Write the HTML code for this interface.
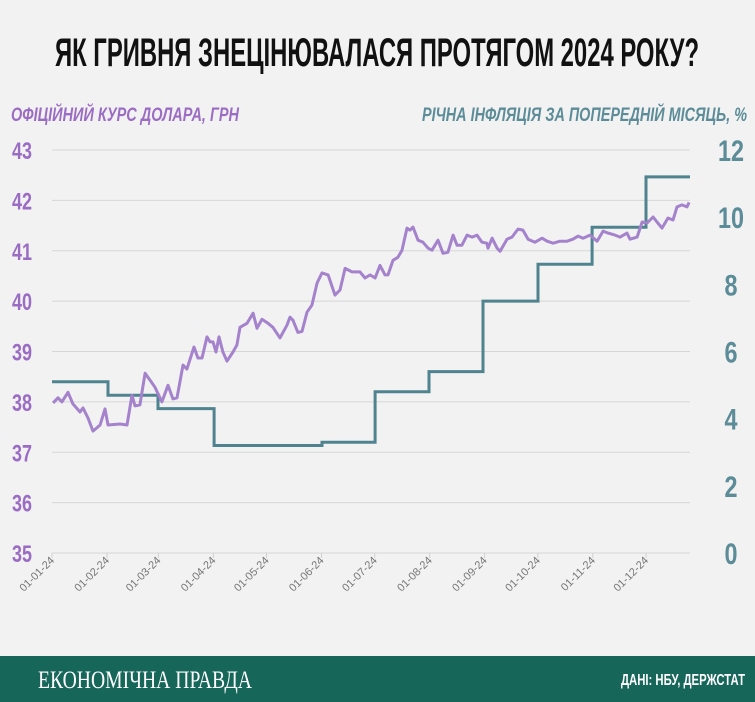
<!DOCTYPE html>
<html><head><meta charset="utf-8"><style>
html,body{margin:0;padding:0;background:#f2f2f2;}
svg{display:block;}
text{font-family:"Liberation Sans Narrow","Liberation Sans",sans-serif;}
</style></head><body>
<svg id="chart" width="755" height="702" viewBox="0 0 755 702" xmlns="http://www.w3.org/2000/svg">
<rect x="0" y="0" width="755" height="702" fill="#f2f2f2"/>
<text x="377" y="66" text-anchor="middle" font-size="40" font-weight="bold" fill="#111" textLength="644" lengthAdjust="spacingAndGlyphs">ЯК ГРИВНЯ ЗНЕЦІНЮВАЛАСЯ ПРОТЯГОМ 2024 РОКУ?</text>
<text x="11" y="121" font-size="19" font-weight="bold" font-style="italic" fill="#9b6cc4" textLength="228" lengthAdjust="spacingAndGlyphs">ОФІЦІЙНИЙ КУРС ДОЛАРА, ГРН</text>
<text x="747" y="121" text-anchor="end" font-size="19" font-weight="bold" font-style="italic" fill="#5b8c98" textLength="325" lengthAdjust="spacingAndGlyphs">РІЧНА ІНФЛЯЦІЯ ЗА ПОПЕРЕДНІЙ МІСЯЦЬ, %</text>
<g id="grid"></g>
<g id="ylabels"></g>
<g id="rlabels"></g>
<g id="xlabels"></g>
<g id="series"></g>
<rect x="0" y="656" width="755" height="46" fill="#16665a"/>
<text x="38" y="688" style="font-family:'Liberation Serif',serif" font-size="25" fill="#fff" textLength="214" lengthAdjust="spacingAndGlyphs">ЕКОНОМІЧНА ПРАВДА</text>
<text x="745" y="685" text-anchor="end" font-size="16" font-weight="bold" fill="#fff" textLength="124" lengthAdjust="spacingAndGlyphs">ДАНІ: НБУ, ДЕРЖСТАТ</text>
</svg>
<script>
const usdDays=[0.6,3.4,5.6,9.0,11.8,15.8,17.5,20.3,23.1,27.1,29.9,31.6,38.4,42.3,45.1,46.8,49.6,52.5,55.3,58.1,62.0,65.4,68.2,70.5,73.9,76.1,80.1,82.3,84.6,87.4,89.1,90.8,92.5,94.2,96.4,98.7,102.1,104.3,106.0,110.0,113.4,115.6,118.4,121.8,124.6,128.6,132.5,134.2,135.9,138.7,141.0,143.8,146.6,149.5,152.3,155.7,159.6,162.4,165.3,169.2,173.7,176.5,179.4,182.2,185.0,187.8,189.5,192.3,195.1,197.4,200.2,201.9,203.6,206.4,209.2,212.1,214.3,217.7,220.5,223.3,226.2,228.4,231.2,234.1,236.9,239.7,242.5,245.3,245.9,248.2,251.0,252.7,256.6,259.4,262.8,265.6,268.5,272.4,276.4,279.2,282.6,286.5,290.5,293.8,296.7,299.5,303.4,307.4,310.8,313.6,317.5,320.4,324.3,326.0,330.0,332.8,335.6,339.0,341.2,344.0,347.4,350.2,352.5,355.3,358.1,359.3];
const usdValues=[37.98,38.08,38.00,38.19,37.96,37.80,37.88,37.68,37.42,37.54,37.86,37.54,37.56,37.54,38.13,37.92,37.94,38.57,38.43,38.29,38.00,38.33,38.06,38.08,38.73,38.65,39.09,38.87,38.87,39.29,39.19,39.19,38.99,39.29,38.99,38.81,38.99,39.13,39.48,39.56,39.76,39.46,39.64,39.56,39.48,39.27,39.52,39.68,39.62,39.38,39.40,39.78,39.92,40.36,40.56,40.52,40.12,40.22,40.65,40.58,40.58,40.46,40.52,40.46,40.71,40.52,40.52,40.81,40.87,41.01,41.45,41.41,41.47,41.21,41.17,41.05,41.01,41.21,40.95,40.97,41.31,41.11,41.11,41.31,41.27,41.31,41.17,41.15,41.05,41.25,41.05,40.99,41.23,41.27,41.43,41.41,41.23,41.17,41.25,41.19,41.15,41.19,41.19,41.23,41.29,41.25,41.31,41.19,41.39,41.35,41.31,41.27,41.35,41.23,41.27,41.57,41.55,41.67,41.57,41.45,41.65,41.61,41.87,41.91,41.87,41.96];
const inflStart=[0,31.6,59.8,91.4,152.3,182.2,212.6,243.1,274.1,304.6,335];
const inflEnd=[31.6,59.8,91.4,152.3,182.2,212.6,243.1,274.1,304.6,335,359.8];
const inflValues=[5.1,4.7,4.3,3.2,3.3,4.8,5.4,7.5,8.6,9.7,11.2];
const leftTicks=[35,36,37,38,39,40,41,42,43];
const rightTicks=[0,2,4,6,8,10,12];
const monthDays=[0,31,60,91,121,152,182,213,244,274,305,335];
const monthLabels=["01-01-24","01-02-24","01-03-24","01-04-24","01-05-24","01-06-24","01-07-24","01-08-24","01-09-24","01-10-24","01-11-24","01-12-24"];

const NS="http://www.w3.org/2000/svg";
const X0=52,X1=690,Y0=553,Y1=150;
function xs(d){return X0+d*(646-52)/335;}
function yl(v){return Y0-(v-35)*(Y0-Y1)/8;}
function yr(v){return Y0-v*(Y0-Y1)/12;}
function mk(tag,attrs,parent){const e=document.createElementNS(NS,tag);for(const k in attrs)e.setAttribute(k,attrs[k]);parent.appendChild(e);return e;}

const grid=document.getElementById('grid');
const yg=document.getElementById('ylabels');
leftTicks.forEach(v=>{
  const l=mk('line',{x1:X0,x2:X1,y1:yl(v),y2:yl(v),stroke:'#d6d6d6','stroke-width':1},grid);
  
  
  const t=mk('text',{x:12,y:yl(v)+9,'font-size':24,'font-weight':'bold',fill:'#9b6cc4',textLength:20,lengthAdjust:'spacingAndGlyphs'},yg);
  t.textContent=v;
  
  
});
const rg=document.getElementById('rlabels');
rightTicks.forEach(v=>{
  const w=String(v).length*13;
  const t=mk('text',{x:731-w/2,y:yr(v)+11,'font-size':30,'font-weight':'bold',fill:'#5b8c98',textLength:w,lengthAdjust:'spacingAndGlyphs'},rg);
  t.textContent=v;
  
  
});
const xg=document.getElementById('xlabels');
monthDays.forEach((d,i)=>{
  const x=xs(d);
  const tk=mk('line',{x1:x,x2:x,y1:Y0,y2:Y0+5,stroke:'#d0d0d0','stroke-width':1},xg);
  
  
  const t=mk('text',{x:x+3,y:Y0+8,'text-anchor':'end','font-size':11,fill:'#777',style:"font-family:'Liberation Sans',sans-serif",transform:`rotate(-45 ${x+3} ${Y0+8})`},xg);
  t.textContent=monthLabels[i];
  
  
});
const sg=document.getElementById('series');
let ip='';
inflValues.forEach((v,i)=>{
  const a=xs(inflStart[i]),b=xs(inflEnd[i]),y=yr(v);
  ip+=(i===0?'M':'L')+a.toFixed(1)+','+y.toFixed(1)+'L'+b.toFixed(1)+','+y.toFixed(1);
});
const inf=mk('path',{d:ip,fill:'none',stroke:'#4f838f','stroke-width':3,'stroke-linejoin':'miter'},sg);


let up='';
usdDays.forEach((d,i)=>{up+=(i===0?'M':'L')+xs(d).toFixed(1)+','+yl(usdValues[i]).toFixed(1);});
const usd=mk('path',{d:up,fill:'none',stroke:'#a582cc','stroke-width':3,'stroke-linejoin':'round'},sg);


</script>
</body></html>
